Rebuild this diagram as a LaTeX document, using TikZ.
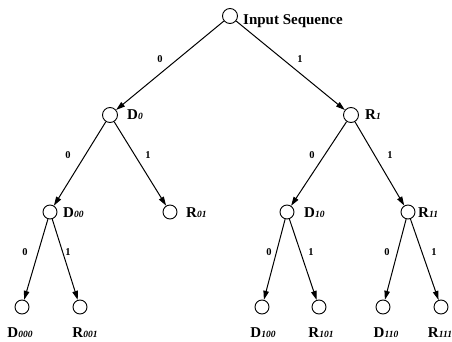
\documentclass[tikz,border=0pt]{standalone}
\usepackage{fontspec}
\setmainfont{Liberation Serif}
\usetikzlibrary{arrows.meta}
\newcommand\nm[2]{{\bfseries #1{\fontsize{9.5}{9.5}\selectfont\itshape #2}}}
\begin{document}
\begin{tikzpicture}[x=1pt,y=-1pt,
  st/.style={circle,draw,line width=0.9pt,minimum size=15pt,inner sep=0pt},
  lf/.style={circle,draw,line width=0.9pt,minimum size=14pt,inner sep=0pt},
  lab/.style={font=\fontsize{15}{17}\selectfont, inner sep=0pt, anchor=base west},
  llab/.style={font=\fontsize{15}{17}\selectfont, inner sep=0pt, anchor=base},
  edg/.style={line width=1pt,-{Triangle[length=9pt,width=5.5pt]}},
  bit/.style={font=\bfseries\fontsize{10.5}{12}\selectfont, inner sep=0pt}]
\useasboundingbox (0,0) rectangle (452,342);
% nodes
\node[st] (r) at (230,16) {};
\node[lab] (rl) at (243,25) {\bfseries Input Sequence};
\node[st] (d0) at (110,115) {};
\node[lab] (d0l) at (127,120) {\nm{D}{0}};
\node[st] (r1) at (351,115) {};
\node[lab] (r1l) at (365,120) {\nm{R}{1}};
\node[lf] (d00) at (50,212) {};
\node[lab] (d00l) at (63,217) {\nm{D}{00}};
\node[lf] (r01) at (170,212) {};
\node[lab] (r01l) at (186,217) {\nm{R}{01}};
\node[lf] (d10) at (287,212) {};
\node[lab] (d10l) at (304,217) {\nm{D}{10}};
\node[lf] (r11) at (408,212) {};
\node[lab] (r11l) at (418,217) {\nm{R}{11}};
\node[lf] (d000) at (22,307) {};
\node[lf] (r001) at (80,307) {};
\node[lf] (d100) at (262,307) {};
\node[lf] (r101) at (319,307) {};
\node[lf] (d110) at (383,307) {};
\node[lf] (r111) at (441,307) {};
\node[llab] (d000l) at (20,337) {\nm{D}{000}};
\node[llab] (r001l) at (85,337) {\nm{R}{001}};
\node[llab] (d100l) at (263,337) {\nm{D}{100}};
\node[llab] (r101l) at (321,337) {\nm{R}{101}};
\node[llab] (d110l) at (386,337) {\nm{D}{110}};
\node[llab] (r111l) at (440,337) {\nm{R}{111}};
% edges
\draw[edg] (r) -- (d0);
\draw[edg] (r) -- (r1);
\draw[edg] (d0) -- (d00);
\draw[edg] (d0) -- (r01);
\draw[edg] (r1) -- (d10);
\draw[edg] (r1) -- (r11);
\draw[edg] (d00) -- (d000);
\draw[edg] (d00) -- (r001);
\draw[edg] (d10) -- (d100);
\draw[edg] (d10) -- (r101);
\draw[edg] (r11) -- (d110);
\draw[edg] (r11) -- (r111);
% bit labels
\node[bit] (b1) at (160,59) {0};
\node[bit] (b2) at (300,59) {1};
\node[bit] (b3) at (68,155) {0};
\node[bit] (b4) at (148,155) {1};
\node[bit] (b5) at (312,155) {0};
\node[bit] (b6) at (390,155) {1};
\node[bit] (b7) at (25,252) {0};
\node[bit] (b8) at (68,252) {1};
\node[bit] (b9) at (269,252) {0};
\node[bit] (b10) at (311,252) {1};
\node[bit] (b11) at (387,252) {0};
\node[bit] (b12) at (434,252) {1};
\end{tikzpicture}
\end{document}
